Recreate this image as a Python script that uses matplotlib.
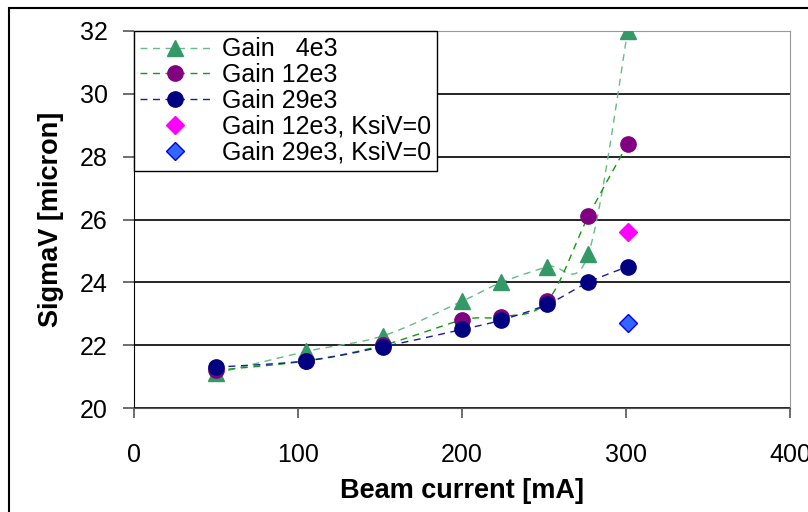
import numpy as np
import matplotlib
matplotlib.use('Agg')
import matplotlib.pyplot as plt
from matplotlib.patches import Rectangle

plt.rcParams['font.family'] = ['Liberation Sans', 'DejaVu Sans']

# beam current [mA]
current = [50, 105, 152, 200, 224, 252, 277, 301]

# SigmaV [micron] for each gain
gain_4e3 = [21.1, 21.8, 22.3, 23.4, 24.0, 24.5, 24.9, 32.0]
gain_12e3 = [21.2, 21.5, 22.0, 22.8, 22.9, 23.4, 26.1, 28.4]
gain_29e3 = [21.3, 21.5, 21.95, 22.5, 22.8, 23.3, 24.0, 24.5]

# KsiV=0 points
ksi_current = [301]
ksi_12e3 = [25.6]
ksi_29e3 = [22.7]

XMIN, XMAX, YMIN, YMAX = 0, 400, 20, 32
PX_W, PX_H = 656.0, 377.0


def smooth(xs, ys, n=30):
    # Excel-like smoothed line (Bezier through the points), computed in screen-ish space
    px = np.array(xs, float) / (XMAX - XMIN) * PX_W
    py = np.array(ys, float) / (YMAX - YMIN) * PX_H
    P = np.column_stack([px, py])
    P_ext = np.vstack([P[0], P, P[-1]])
    out = []
    t = np.linspace(0, 1, n)[:, None]
    for i in range(len(P) - 1):
        p0, p1, p2, p3 = P_ext[i], P_ext[i + 1], P_ext[i + 2], P_ext[i + 3]
        c1 = p1 + (p2 - p0) / 6
        c2 = p2 - (p3 - p1) / 6
        seg = (1 - t) ** 3 * p1 + 3 * (1 - t) ** 2 * t * c1 + 3 * (1 - t) * t ** 2 * c2 + t ** 3 * p2
        out.append(seg if i == 0 else seg[1:])
    out = np.vstack(out)
    return out[:, 0] / PX_W * (XMAX - XMIN), out[:, 1] / PX_H * (YMAX - YMIN)


fig = plt.figure(figsize=(8.08, 5.12), dpi=100)
ax = fig.add_axes([134 / 808, 1 - 408 / 512, 656 / 808, 377 / 512])

dash = (0, (5, 4))
series = [
    (gain_4e3, '#66bb88', '^', '#339966', 'Gain   4e3'),
    (gain_12e3, '#119911', 'o', '#800080', 'Gain 12e3'),
    (gain_29e3, '#1a1aa0', 'o', '#000080', 'Gain 29e3'),
]
handles = []
for ys, lc, mk, mc, lab in series:
    sx, sy = smooth(current, ys)
    ax.plot(sx, sy, color=lc, lw=1.0, ls=dash, zorder=3)
    ax.plot(current, ys, ls='none', marker=mk, ms=11, color=mc, mec=mc, zorder=4)
    h, = ax.plot([], [], color=lc, lw=1.0, ls=dash, marker=mk, ms=11, mfc=mc, mec=mc, label=lab)
    handles.append(h)

h4, = ax.plot(ksi_current, ksi_12e3, ls='none', marker='D', ms=9.5, color='#ff00ff',
              mec='#ff00ff', label='Gain 12e3, KsiV=0', zorder=4)
h5, = ax.plot(ksi_current, ksi_29e3, ls='none', marker='D', ms=9.5, color='#3366ff',
              mec='#0000ee', label='Gain 29e3, KsiV=0', zorder=4)
handles += [h4, h5]

ax.set_xlim(XMIN, XMAX)
ax.set_ylim(YMIN, YMAX)
ax.set_xticks([0, 100, 200, 300, 400])
ax.set_yticks([20, 22, 24, 26, 28, 30, 32])
ax.yaxis.grid(True, color='black', lw=1.2)
ax.set_axisbelow(True)

for side in ['top', 'right']:
    ax.spines[side].set_color('#999999')
ax.spines['left'].set_color('black')
ax.spines['bottom'].set_color('#555555')
ax.tick_params(axis='both', labelsize=18, direction='out', width=1.2, color='#555555')
ax.tick_params(axis='x', length=7, pad=18)
ax.tick_params(axis='y', length=8, pad=11)

ax.set_xlabel('Beam current [mA]', fontsize=19.5, fontweight='bold', labelpad=8)
ax.set_ylabel('SigmaV [micron]', fontsize=19.5, fontweight='bold', labelpad=11)

leg = ax.legend(handles=handles, loc='upper left', bbox_to_anchor=(0, 1), fontsize=18,
                frameon=True, fancybox=False, edgecolor='black', framealpha=1,
                handlelength=2.8, handletextpad=0.45, labelspacing=0.07,
                borderpad=0.25, borderaxespad=0)
leg.get_frame().set_linewidth(1.0)

# chart area border
fig.patches.append(Rectangle((8.5 / 808, -0.5), 1.5, 0.5 + 1 - 7.5 / 512,
                             transform=fig.transFigure, fill=False, ec='black', lw=1.5))

fig.savefig('out.png', dpi=100)
